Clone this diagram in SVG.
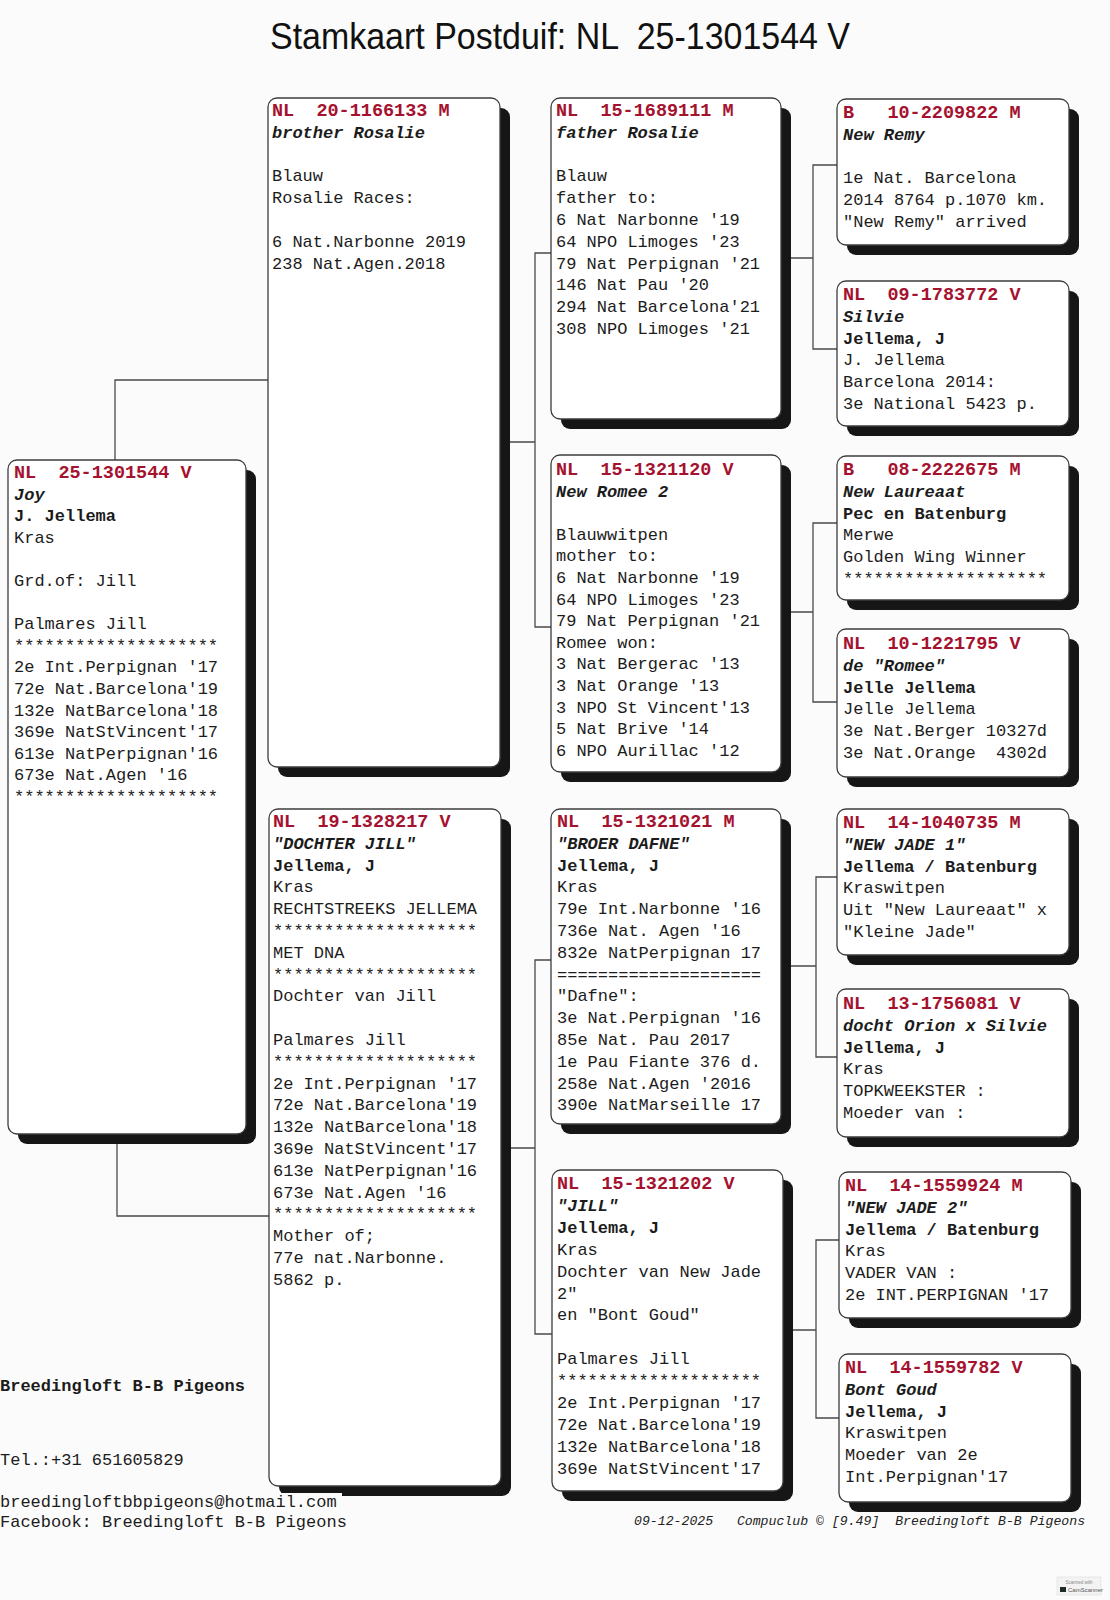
<svg xmlns="http://www.w3.org/2000/svg" width="1110" height="1600" viewBox="0 0 1110 1600">
<style>
.bg{fill:#fbfbfb}
.sh{fill:#161616}
.bx{fill:#ffffff;stroke:#3c3c3c;stroke-width:1.3}
.t{font-family:"Liberation Mono","Courier New",monospace;font-size:17px;fill:#1c1c1c;white-space:pre}
.id{font-size:18.5px;font-weight:bold;fill:#a5122f}
.nm{font-weight:bold;font-style:italic}
.b{font-weight:bold}
.cn{fill:none;stroke:#4a4a4a;stroke-width:1.3}
.title{font-family:"Liberation Sans",Arial,sans-serif;font-size:37px;fill:#111;white-space:pre}
.ft{font-family:"Liberation Mono","Courier New",monospace;font-size:13.2px;font-style:italic;fill:#222;white-space:pre}
</style>
<rect class="bg" x="0" y="0" width="1110" height="1600"/>
<text class="title" x="270" y="49" textLength="580" lengthAdjust="spacingAndGlyphs" xml:space="preserve">Stamkaart Postduif: NL  25-1301544 V</text>

<g id="connectors">
<path class="cn" d="M115 460V380H268"/>
<path class="cn" d="M117 1144V1216H269"/>
<path class="cn" d="M510 442H535M551 253H535V627H551"/>
<path class="cn" d="M511 1148H535M551 960H535V1334H552"/>
<path class="cn" d="M791 258H813M837 165H813V349H837"/>
<path class="cn" d="M791 612H813M837 523H813V702H837"/>
<path class="cn" d="M791 966H816M837 877H816V1057H837"/>
<path class="cn" d="M793 1330H816M839 1240H816V1418H839"/>
</g>

<g id="A">
<rect class="sh" x="18" y="470" width="238" height="674" rx="9"/>
<rect class="bx" x="8" y="460" width="238" height="674" rx="9"/>
<text class="t" x="14" y="478" xml:space="preserve"><tspan class="id">NL  25-1301544 V</tspan><tspan x="14" dy="21.6" class="nm">Joy</tspan><tspan x="14" dy="21.6" class="b">J. Jellema</tspan><tspan x="14" dy="21.6">Kras</tspan><tspan x="14" dy="43.2">Grd.of: Jill</tspan><tspan x="14" dy="43.2">Palmares Jill</tspan><tspan x="14" dy="21.6">********************</tspan><tspan x="14" dy="21.6">2e Int.Perpignan '17</tspan><tspan x="14" dy="21.6">72e Nat.Barcelona'19</tspan><tspan x="14" dy="21.6">132e NatBarcelona'18</tspan><tspan x="14" dy="21.6">369e NatStVincent'17</tspan><tspan x="14" dy="21.6">613e NatPerpignan'16</tspan><tspan x="14" dy="21.6">673e Nat.Agen '16</tspan><tspan x="14" dy="21.6">********************</tspan></text>
</g>

<g id="B1">
<rect class="sh" x="278" y="108" width="232" height="669" rx="9"/>
<rect class="bx" x="268" y="98" width="232" height="669" rx="9"/>
<text class="t" x="272" y="116" xml:space="preserve"><tspan class="id">NL  20-1166133 M</tspan><tspan x="272" dy="21.8" class="nm">brother Rosalie</tspan><tspan x="272" dy="43.6">Blauw</tspan><tspan x="272" dy="21.8">Rosalie Races:</tspan><tspan x="272" dy="43.6">6 Nat.Narbonne 2019</tspan><tspan x="272" dy="21.8">238 Nat.Agen.2018</tspan></text>
</g>

<g id="B2">
<rect class="sh" x="279" y="819" width="232" height="677" rx="9"/>
<rect class="bx" x="269" y="809" width="232" height="677" rx="9"/>
<text class="t" x="273" y="827" xml:space="preserve"><tspan class="id">NL  19-1328217 V</tspan><tspan x="273" dy="21.8" class="nm">"DOCHTER JILL"</tspan><tspan x="273" dy="21.8" class="b">Jellema, J</tspan><tspan x="273" dy="21.8">Kras</tspan><tspan x="273" dy="21.8">RECHTSTREEKS JELLEMA</tspan><tspan x="273" dy="21.8">********************</tspan><tspan x="273" dy="21.8">MET DNA</tspan><tspan x="273" dy="21.8">********************</tspan><tspan x="273" dy="21.8">Dochter van Jill</tspan><tspan x="273" dy="43.6">Palmares Jill</tspan><tspan x="273" dy="21.8">********************</tspan><tspan x="273" dy="21.8">2e Int.Perpignan '17</tspan><tspan x="273" dy="21.8">72e Nat.Barcelona'19</tspan><tspan x="273" dy="21.8">132e NatBarcelona'18</tspan><tspan x="273" dy="21.8">369e NatStVincent'17</tspan><tspan x="273" dy="21.8">613e NatPerpignan'16</tspan><tspan x="273" dy="21.8">673e Nat.Agen '16</tspan><tspan x="273" dy="21.8">********************</tspan><tspan x="273" dy="21.8">Mother of;</tspan><tspan x="273" dy="21.8">77e nat.Narbonne.</tspan><tspan x="273" dy="21.8">5862 p.</tspan></text>
</g>

<g id="C1">
<rect class="sh" x="561" y="108" width="230" height="321" rx="9"/>
<rect class="bx" x="551" y="98" width="230" height="321" rx="9"/>
<text class="t" x="556" y="116" xml:space="preserve"><tspan class="id">NL  15-1689111 M</tspan><tspan x="556" dy="21.8" class="nm">father Rosalie</tspan><tspan x="556" dy="43.6">Blauw</tspan><tspan x="556" dy="21.8">father to:</tspan><tspan x="556" dy="21.8">6 Nat Narbonne '19</tspan><tspan x="556" dy="21.8">64 NPO Limoges '23</tspan><tspan x="556" dy="21.8">79 Nat Perpignan '21</tspan><tspan x="556" dy="21.8">146 Nat Pau '20</tspan><tspan x="556" dy="21.8">294 Nat Barcelona'21</tspan><tspan x="556" dy="21.8">308 NPO Limoges '21</tspan></text>
</g>

<g id="C2">
<rect class="sh" x="561" y="465" width="230" height="317" rx="9"/>
<rect class="bx" x="551" y="455" width="230" height="317" rx="9"/>
<text class="t" x="556" y="475" xml:space="preserve"><tspan class="id">NL  15-1321120 V</tspan><tspan x="556" dy="21.6" class="nm">New Romee 2</tspan><tspan x="556" dy="43.2">Blauwwitpen</tspan><tspan x="556" dy="21.6">mother to:</tspan><tspan x="556" dy="21.6">6 Nat Narbonne '19</tspan><tspan x="556" dy="21.6">64 NPO Limoges '23</tspan><tspan x="556" dy="21.6">79 Nat Perpignan '21</tspan><tspan x="556" dy="21.6">Romee won:</tspan><tspan x="556" dy="21.6">3 Nat Bergerac '13</tspan><tspan x="556" dy="21.6">3 Nat Orange '13</tspan><tspan x="556" dy="21.6">3 NPO St Vincent'13</tspan><tspan x="556" dy="21.6">5 Nat Brive '14</tspan><tspan x="556" dy="21.6">6 NPO Aurillac '12</tspan></text>
</g>

<g id="C3">
<rect class="sh" x="561" y="819" width="230" height="315" rx="9"/>
<rect class="bx" x="551" y="809" width="230" height="315" rx="9"/>
<text class="t" x="557" y="827" xml:space="preserve"><tspan class="id">NL  15-1321021 M</tspan><tspan x="557" dy="21.8" class="nm">"BROER DAFNE"</tspan><tspan x="557" dy="21.8" class="b">Jellema, J</tspan><tspan x="557" dy="21.8">Kras</tspan><tspan x="557" dy="21.8">79e Int.Narbonne '16</tspan><tspan x="557" dy="21.8">736e Nat. Agen '16</tspan><tspan x="557" dy="21.8">832e NatPerpignan 17</tspan><tspan x="557" dy="21.8">====================</tspan><tspan x="557" dy="21.8">"Dafne":</tspan><tspan x="557" dy="21.8">3e Nat.Perpignan '16</tspan><tspan x="557" dy="21.8">85e Nat. Pau 2017</tspan><tspan x="557" dy="21.8">1e Pau Fiante 376 d.</tspan><tspan x="557" dy="21.8">258e Nat.Agen '2016</tspan><tspan x="557" dy="21.8">390e NatMarseille 17</tspan></text>
</g>

<g id="C4">
<rect class="sh" x="562" y="1180" width="231" height="321" rx="9"/>
<rect class="bx" x="552" y="1170" width="231" height="321" rx="9"/>
<text class="t" x="557" y="1189" xml:space="preserve"><tspan class="id">NL  15-1321202 V</tspan><tspan x="557" dy="21.9" class="nm">"JILL"</tspan><tspan x="557" dy="21.9" class="b">Jellema, J</tspan><tspan x="557" dy="21.9">Kras</tspan><tspan x="557" dy="21.9">Dochter van New Jade</tspan><tspan x="557" dy="21.9">2"</tspan><tspan x="557" dy="21.9">en "Bont Goud"</tspan><tspan x="557" dy="43.8">Palmares Jill</tspan><tspan x="557" dy="21.9">********************</tspan><tspan x="557" dy="21.9">2e Int.Perpignan '17</tspan><tspan x="557" dy="21.9">72e Nat.Barcelona'19</tspan><tspan x="557" dy="21.9">132e NatBarcelona'18</tspan><tspan x="557" dy="21.9">369e NatStVincent'17</tspan></text>
</g>

<g id="D1">
<rect class="sh" x="847" y="109" width="232" height="146" rx="9"/>
<rect class="bx" x="837" y="99" width="232" height="146" rx="9"/>
<text class="t" x="843" y="118" xml:space="preserve"><tspan class="id">B   10-2209822 M</tspan><tspan x="843" dy="21.8" class="nm">New Remy</tspan><tspan x="843" dy="43.6">1e Nat. Barcelona</tspan><tspan x="843" dy="21.8">2014 8764 p.1070 km.</tspan><tspan x="843" dy="21.8">"New Remy" arrived</tspan></text>
</g>

<g id="D2">
<rect class="sh" x="847" y="291" width="232" height="145" rx="9"/>
<rect class="bx" x="837" y="281" width="232" height="145" rx="9"/>
<text class="t" x="843" y="300" xml:space="preserve"><tspan class="id">NL  09-1783772 V</tspan><tspan x="843" dy="21.8" class="nm">Silvie</tspan><tspan x="843" dy="21.8" class="b">Jellema, J</tspan><tspan x="843" dy="21.8">J. Jellema</tspan><tspan x="843" dy="21.8">Barcelona 2014:</tspan><tspan x="843" dy="21.8">3e National 5423 p.</tspan></text>
</g>

<g id="D3">
<rect class="sh" x="847" y="466" width="232" height="144" rx="9"/>
<rect class="bx" x="837" y="456" width="232" height="144" rx="9"/>
<text class="t" x="843" y="475" xml:space="preserve"><tspan class="id">B   08-2222675 M</tspan><tspan x="843" dy="21.8" class="nm">New Laureaat</tspan><tspan x="843" dy="21.8" class="b">Pec en Batenburg</tspan><tspan x="843" dy="21.8">Merwe</tspan><tspan x="843" dy="21.8">Golden Wing Winner</tspan><tspan x="843" dy="21.8">********************</tspan></text>
</g>

<g id="D4">
<rect class="sh" x="847" y="639" width="232" height="148" rx="9"/>
<rect class="bx" x="837" y="629" width="232" height="148" rx="9"/>
<text class="t" x="843" y="649" xml:space="preserve"><tspan class="id">NL  10-1221795 V</tspan><tspan x="843" dy="21.8" class="nm">de "Romee"</tspan><tspan x="843" dy="21.8" class="b">Jelle Jellema</tspan><tspan x="843" dy="21.8">Jelle Jellema</tspan><tspan x="843" dy="21.8">3e Nat.Berger 10327d</tspan><tspan x="843" dy="21.8">3e Nat.Orange  4302d</tspan></text>
</g>

<g id="D5">
<rect class="sh" x="847" y="819" width="232" height="146" rx="9"/>
<rect class="bx" x="837" y="809" width="232" height="146" rx="9"/>
<text class="t" x="843" y="828" xml:space="preserve"><tspan class="id">NL  14-1040735 M</tspan><tspan x="843" dy="21.8" class="nm">"NEW JADE 1"</tspan><tspan x="843" dy="21.8" class="b">Jellema / Batenburg</tspan><tspan x="843" dy="21.8">Kraswitpen</tspan><tspan x="843" dy="21.8">Uit "New Laureaat" x</tspan><tspan x="843" dy="21.8">"Kleine Jade"</tspan></text>
</g>

<g id="D6">
<rect class="sh" x="847" y="999" width="232" height="148" rx="9"/>
<rect class="bx" x="837" y="989" width="232" height="148" rx="9"/>
<text class="t" x="843" y="1009" xml:space="preserve"><tspan class="id">NL  13-1756081 V</tspan><tspan x="843" dy="21.8" class="nm">docht Orion x Silvie</tspan><tspan x="843" dy="21.8" class="b">Jellema, J</tspan><tspan x="843" dy="21.8">Kras</tspan><tspan x="843" dy="21.8">TOPKWEEKSTER :</tspan><tspan x="843" dy="21.8">Moeder van :</tspan></text>
</g>

<g id="D7">
<rect class="sh" x="849" y="1182" width="232" height="146" rx="9"/>
<rect class="bx" x="839" y="1172" width="232" height="146" rx="9"/>
<text class="t" x="845" y="1191" xml:space="preserve"><tspan class="id">NL  14-1559924 M</tspan><tspan x="845" dy="21.8" class="nm">"NEW JADE 2"</tspan><tspan x="845" dy="21.8" class="b">Jellema / Batenburg</tspan><tspan x="845" dy="21.8">Kras</tspan><tspan x="845" dy="21.8">VADER VAN :</tspan><tspan x="845" dy="21.8">2e INT.PERPIGNAN '17</tspan></text>
</g>

<g id="D8">
<rect class="sh" x="849" y="1364" width="232" height="148" rx="9"/>
<rect class="bx" x="839" y="1354" width="232" height="148" rx="9"/>
<text class="t" x="845" y="1373" xml:space="preserve"><tspan class="id">NL  14-1559782 V</tspan><tspan x="845" dy="21.8" class="nm">Bont Goud</tspan><tspan x="845" dy="21.8" class="b">Jellema, J</tspan><tspan x="845" dy="21.8">Kraswitpen</tspan><tspan x="845" dy="21.8">Moeder van 2e</tspan><tspan x="845" dy="21.8">Int.Perpignan'17</tspan></text>
</g>

<g id="footer">
<text class="t b" x="0" y="1391" xml:space="preserve">Breedingloft B-B Pigeons</text>
<text class="t" x="0" y="1465" xml:space="preserve">Tel.:+31 651605829</text>
<rect x="0" y="1493" width="342" height="18" fill="#fbfbfb"/>
<text class="t" x="0" y="1507" xml:space="preserve">breedingloftbbpigeons@hotmail.com</text>
<text class="t" x="0" y="1527" xml:space="preserve">Facebook: Breedingloft B-B Pigeons</text>
<text class="ft" x="634" y="1525" xml:space="preserve">09-12-2025   Compuclub © [9.49]  Breedingloft B-B Pigeons</text>
</g>

<g id="badge">
<rect x="1057" y="1577" width="44" height="18" fill="#f3f3f3" stroke="#dddddd" stroke-width="0.6"/>
<text x="1079" y="1584" text-anchor="middle" font-family="Liberation Sans,Arial,sans-serif" font-size="4.5" fill="#888">Scanned with</text>
<rect x="1060" y="1587" width="6" height="5" fill="#1e2a2a"/>
<text x="1068" y="1592" font-family="Liberation Sans,Arial,sans-serif" font-size="6" fill="#555">CamScanner</text>
</g>
</svg>
